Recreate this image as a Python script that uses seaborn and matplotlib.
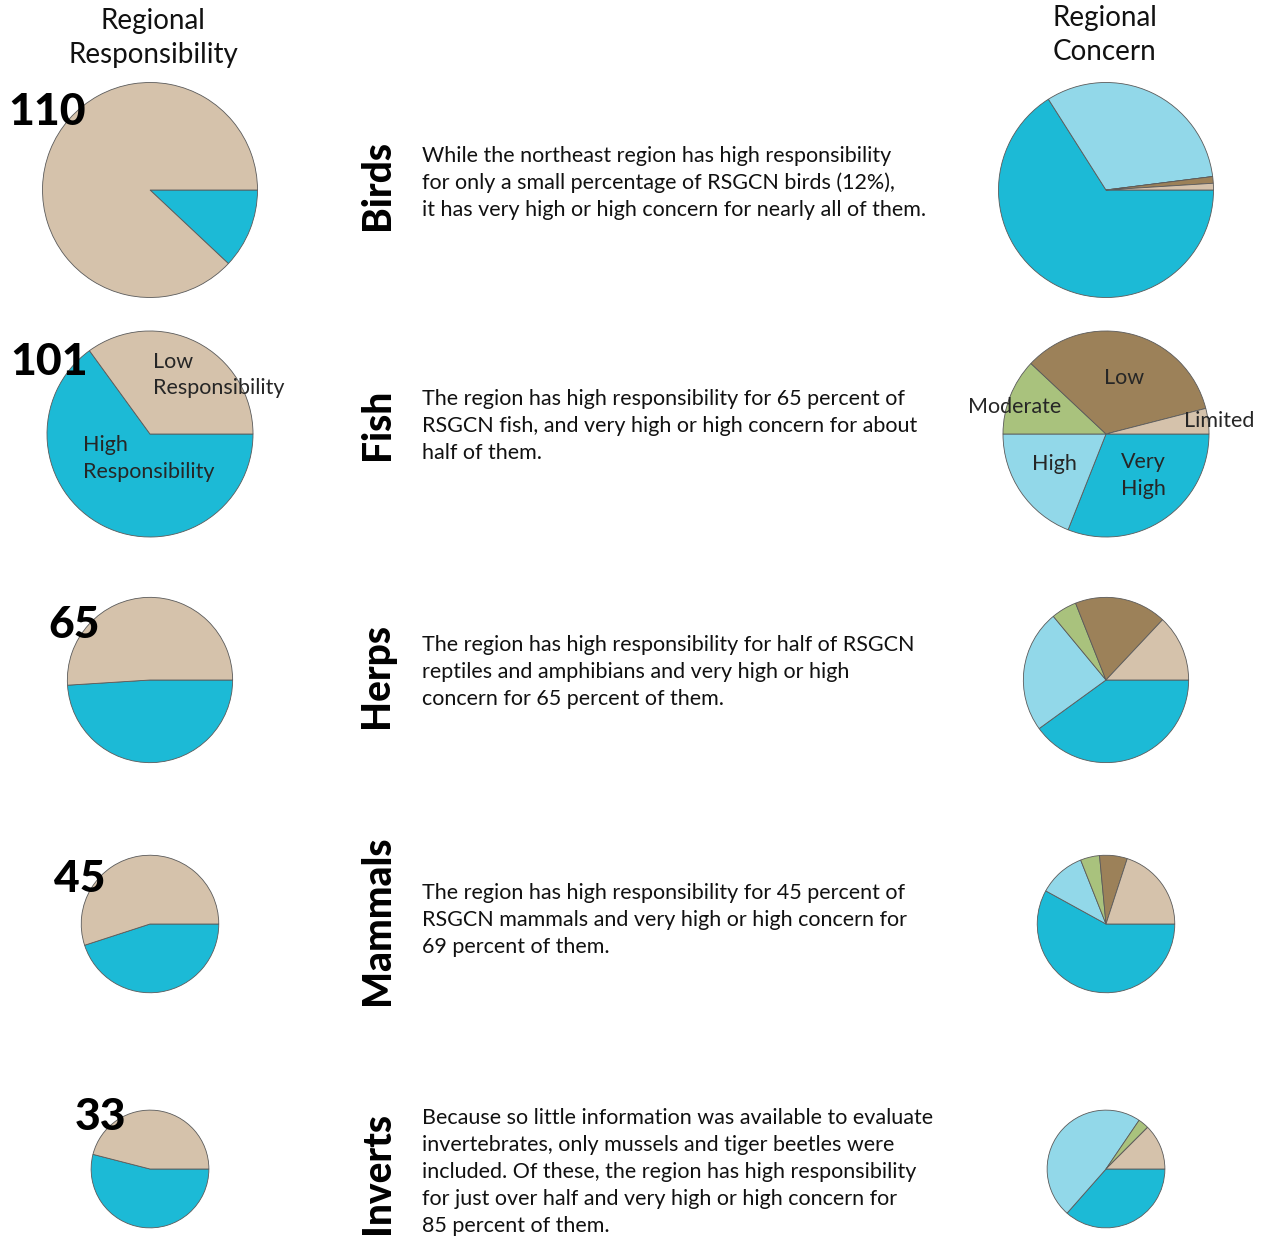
import numpy as np
import matplotlib
matplotlib.use("Agg")
import matplotlib.pyplot as plt
import seaborn as sns

sns.set_theme(style="white")
plt.rcParams['font.family'] = ['Lato', 'DejaVu Sans']

# ---------------- data ----------------
groups = ["Birds", "Fish", "Herps", "Mammals", "Inverts"]
species_counts = [110, 101, 65, 45, 33]

# Regional responsibility (percent): high, low
resp_high = [12, 65, 49, 45, 54]
resp_low = [88, 35, 51, 55, 46]

# Regional concern (percent)
concern_levels = ["Very High", "High", "Moderate", "Low", "Limited"]
concern_very_high = [66, 31, 40, 58, 36.5]
concern_high = [32, 19, 24, 11, 48]
concern_moderate = [0, 12, 5, 4.5, 3]
concern_low = [1, 34, 18, 6.5, 0]
concern_limited = [1, 4, 13, 20, 12.5]

descriptions = [
    ["While the northeast region has high responsibility",
     "for only a small percentage of RSGCN birds (12%),",
     "it has very high or high concern for nearly all of them."],
    ["The region has high responsibility for 65 percent of",
     "RSGCN fish, and very high or high concern for about",
     "half of them."],
    ["The region has high responsibility for half of RSGCN",
     "reptiles and amphibians and very high or high",
     "concern for 65 percent of them."],
    ["The region has high responsibility for 45 percent of",
     "RSGCN mammals and very high or high concern for",
     "69 percent of them."],
    ["Because so little information was available to evaluate",
     "invertebrates, only mussels and tiger beetles were",
     "included. Of these, the region has high responsibility",
     "for just over half and very high or high concern for",
     "85 percent of them."],
]

# ---------------- styles ----------------
C_TAN = "#D5C2AB"
C_CYAN = "#1CBAD6"
C_LIGHT = "#92D8E9"
C_GREEN = "#A9C27D"
C_BROWN = "#9C8159"
EDGE = "#5a5a5a"
concern_colors = [C_CYAN, C_LIGHT, C_GREEN, C_BROWN, C_TAN]
BODY = 15.5

W, H = 1266, 1238
fig = plt.figure(figsize=(W / 100, H / 100), dpi=100)
ax = fig.add_axes([0, 0, 1, 1])

def Y(y):
    return H - y

def lines_text(x, y0, lines, step, **kw):
    for j, line in enumerate(lines):
        ax.text(x, Y(y0 + step * j), line, va='center', **kw)

row_y = [190, 434, 680, 924, 1169]
left_x = 150
right_x = 1106
k = 10.25

wp = dict(edgecolor=EDGE, linewidth=0.6)
for i, g in enumerate(groups):
    r = k * np.sqrt(species_counts[i])
    ax.pie([resp_high[i], resp_low[i]], colors=[C_CYAN, C_TAN],
           startangle=0, counterclock=False, radius=r,
           center=(left_x, Y(row_y[i])), wedgeprops=wp, frame=True)
    vals = [concern_very_high[i], concern_high[i], concern_moderate[i],
            concern_low[i], concern_limited[i]]
    ax.pie(vals, colors=concern_colors, startangle=0, counterclock=False,
           radius=r, center=(right_x, Y(row_y[i])), wedgeprops=wp, frame=True)

ax.set_xlim(0, W)
ax.set_ylim(0, H)
ax.set_aspect('equal')
ax.axis('off')

# titles
lines_text(153, 21, ["Regional", "Responsibility"], 34, ha='center',
           fontsize=20, color='#111')
lines_text(1105, 18, ["Regional", "Concern"], 34, ha='center',
           fontsize=20, color='#111')

# counts
count_pos = [(8, 112), (10, 362), (48, 625), (54, 879), (75, 1117)]
for (cx, cy), n in zip(count_pos, species_counts):
    ax.text(cx, Y(cy), str(n), ha='left', va='center', fontsize=32,
            fontweight='black', color='black')

# group labels
group_y = [185, 424, 676, 920, 1173]
for gy, g in zip(group_y, groups):
    ax.text(377, Y(gy), g, rotation=90, ha='center', va='center',
            fontsize=28, fontweight='black', color='black')

# descriptions
desc_start = [156, 399, 645, 893, 1118]
for y0, lines in zip(desc_start, descriptions):
    lines_text(422, y0, lines, 27, ha='left', fontsize=BODY, color='#111')

# slice labels (fish)
lines_text(153, 362, ["Low", "Responsibility"], 26, ha='left', fontsize=BODY)
lines_text(83, 445, ["High", "Responsibility"], 27, ha='left', fontsize=BODY)
ax.text(1124, Y(378), "Low", ha='center', va='center', fontsize=BODY)
ax.text(968, Y(407), "Moderate", ha='left', va='center', fontsize=BODY)
ax.text(1184, Y(421), "Limited", ha='left', va='center', fontsize=BODY)
ax.text(1054, Y(464), "High", ha='center', va='center', fontsize=BODY)
lines_text(1121, 462, ["Very", "High"], 27, ha='left', fontsize=BODY)

fig.savefig("out.png", dpi=100, facecolor='white')
